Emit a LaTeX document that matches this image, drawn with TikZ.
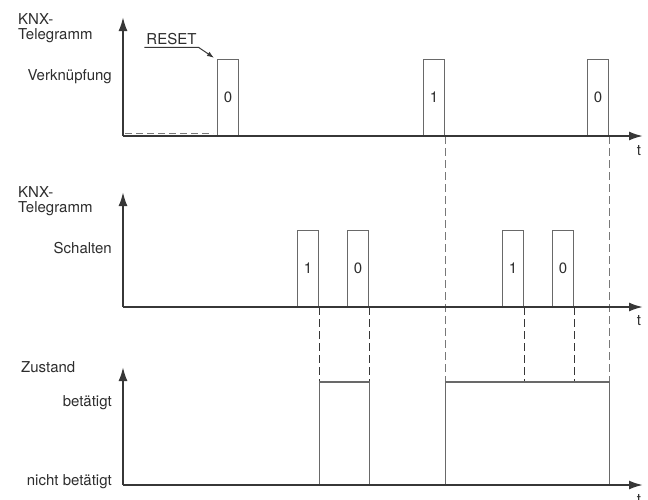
\documentclass[tikz,border=0pt]{standalone}
\usepackage{fontspec}
\setmainfont{TeX Gyre Heros}
\usetikzlibrary{arrows.meta,positioning}
\definecolor{axisgray}{RGB}{55,55,55}
\definecolor{pulsegray}{RGB}{105,105,105}
\definecolor{textgray}{RGB}{45,45,45}
\definecolor{dropgray}{RGB}{120,120,120}

\begin{document}
\begin{tikzpicture}[x=1pt, y=-1pt,
    lbl/.style={font=\fontsize{15}{17}\selectfont, text=textgray, inner sep=0pt},
    axis/.style={draw=axisgray, line width=2pt, -{Latex[length=14pt,width=9pt]}},
    pulse/.style={rectangle, draw=pulsegray, line width=1.2pt, minimum width=21pt, minimum height=76pt, inner sep=0pt, anchor=south west, font=\fontsize{15}{17}\selectfont, text=textgray},
    state/.style={draw=pulsegray, line width=1.3pt},
    drop/.style={draw=axisgray, line width=1pt, dash pattern=on 8pt off 4pt},
    dropgr/.style={draw=dropgray, line width=1.1pt, dash pattern=on 8pt off 4pt},
    idle/.style={draw=dropgray, line width=1.1pt, dash pattern=on 7pt off 4pt}]
    \useasboundingbox (0,0) rectangle (648,499);

    \coordinate (o1) at (123,136);
    \coordinate (o2) at (123,307);
    \coordinate (o3) at (123,485);
    \coordinate (hi) at (0,382);

    \node [lbl, anchor=base west] (knx1) at (18,24) {KNX-};
    \node [lbl, anchor=base west] (tel1) at (18,39) {Telegramm};
    \node [lbl, anchor=base east] (verk) at (112,80) {Verknüpfung};
    \node [lbl, anchor=base, inner xsep=2pt, inner ysep=3pt] (reset) at (171.5,44) {RESET};
    \node [lbl, anchor=base] (t1) at (639,155) {t};

    \node [lbl, anchor=base west] (knx2) at (18,197) {KNX-};
    \node [lbl, anchor=base west] (tel2) at (18,212) {Telegramm};
    \node [lbl, anchor=base east] (schalt) at (112,253) {Schalten};
    \node [lbl, anchor=base] (t2) at (639,325) {t};

    \node [lbl, anchor=base west] (zust) at (21,372) {Zustand};
    \node [lbl, anchor=base east] (bet) at (112,406) {betätigt};
    \node [lbl, anchor=base east] (nbet) at (112,485) {nicht betätigt};
    \node [lbl, anchor=base] (t3) at (639,504) {t};

    \node [pulse] (v0) at (217,136) {0};
    \node [pulse] (v1) at (423,136) {1};
    \node [pulse] (v2) at (587,136) {0};

    \node [pulse] (s1) at (297,307) {1};
    \node [pulse] (s2) at (347,307) {0};
    \node [pulse] (s3) at (502,307) {1};
    \node [pulse] (s4) at (552,307) {0};

    \draw[idle] ([shift={(2,-2.5)}]o1) -- ([shift={(-4,-2.5)}]v0.south west);

    \draw[axisgray, line width=1pt, -{Latex[length=7pt,width=5pt]}] (reset.south west) -- (reset.south east) -- ([shift={(-3,-1)}]v0.north west);

    \draw[dropgr] (v1.south east) -- (v1.south east |- hi);
    \draw[dropgr] (v2.south east) -- (v2.south east |- hi);
    \draw[drop] (s1.south east) -- (s1.south east |- hi);
    \draw[drop] (s2.south east) -- (s2.south east |- hi);
    \draw[drop] (s3.south east) -- (s3.south east |- hi);
    \draw[drop] (s4.south east) -- (s4.south east |- hi);

    \draw[state] (s1.south east |- o3) -- (s1.south east |- hi) -- (s2.south east |- hi) -- (s2.south east |- o3);
    \draw[state] (v1.south east |- o3) -- (v1.south east |- hi) -- (v2.south east |- hi) -- (v2.south east |- o3);

    \draw[axis] (o1) -- (123,17);
    \draw[axis] (o1) -- (643,136);
    \draw[axis] (o2) -- (123,192);
    \draw[axis] (o2) -- (643,307);
    \draw[axis] (o3) -- (123,367);
    \draw[axis] (o3) -- (643,485);
\end{tikzpicture}
\end{document}
